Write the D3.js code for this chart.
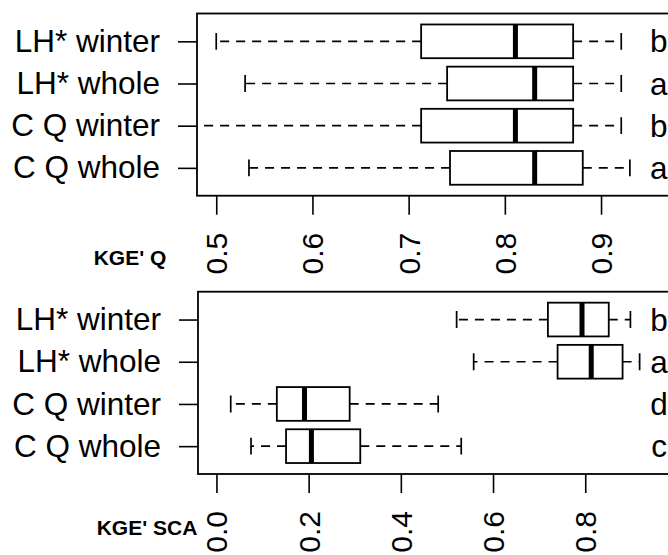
<!DOCTYPE html>
<html><head><meta charset="utf-8">
<script src="https://cdn.jsdelivr.net/npm/d3@7"></script>
<style>
html,body{margin:0;padding:0;background:#fff;}
svg{display:block;font-family:"Liberation Sans",Arial,Helvetica,sans-serif;}
</style></head>
<body><svg id="chart" width="668" height="555"></svg>
<script>
// categories, bottom to top
const categories = ["C Q whole", "C Q winter", "LH* whole", "LH* winter"];

// Panel 1: KGE' Q
const qLow    = [0.534, 0.460, 0.530, 0.500];
const qQ1     = [0.743, 0.713, 0.740, 0.713];
const qMedian = [0.831, 0.811, 0.831, 0.811];
const qQ3     = [0.881, 0.871, 0.871, 0.871];
const qHigh   = [0.930, 0.921, 0.921, 0.921];
const qLetters = ["a", "b", "a", "b"];
const qTicks = [0.5, 0.6, 0.7, 0.8, 0.9];
const qLimits = [0.5, 1.0];

// Panel 2: KGE' SCA
const sLow    = [0.075, 0.031, 0.558, 0.521];
const sQ1     = [0.151, 0.131, 0.740, 0.719];
const sMedian = [0.206, 0.191, 0.813, 0.793];
const sQ3     = [0.312, 0.289, 0.881, 0.851];
const sHigh   = [0.531, 0.481, 0.918, 0.898];
const sLetters = ["c", "d", "a", "b"];
const sTicks = [0.0, 0.2, 0.4, 0.6, 0.8];
const sLimits = [0.0, 1.0];

const letterX = 0.96;

const svg = d3.select("#chart");
const FS = 30;
const FSL = 31.5;

function panel(cfg) {
  const ext = (cfg.limits[1] - cfg.limits[0]) * 0.04;
  const x = d3.scaleLinear()
    .domain([cfg.limits[0] - ext, cfg.limits[1] + ext])
    .range([cfg.left, cfg.left + cfg.width]);
  const y = d3.scaleLinear().domain([0.34, 4.66]).range([cfg.bottom, cfg.top]);
  const unit = Math.abs(y(1) - y(0));
  const boxH = 0.8 * unit;
  const g = svg.append("g");
  const clipId = "clip" + cfg.id;
  svg.append("clipPath").attr("id", clipId).append("rect")
    .attr("x", x.range()[0]).attr("y", cfg.top)
    .attr("width", x.range()[1] - x.range()[0]).attr("height", cfg.bottom - cfg.top);
  const plot = g.append("g").attr("clip-path", `url(#${clipId})`);

  const rows = categories.map((c, i) => ({
    c, pos: i + 1, low: cfg.low[i], q1: cfg.q1[i], med: cfg.med[i], q3: cfg.q3[i], high: cfg.high[i], letter: cfg.letters[i]
  }));
  const rg = plot.selectAll("g.row").data(rows).join("g").attr("class", "row");
  // whiskers
  rg.append("line").attr("x1", d => x(d.q1)).attr("x2", d => x(d.low))
    .attr("y1", d => y(d.pos)).attr("y2", d => y(d.pos))
    .attr("stroke", "#000").attr("stroke-width", 1.7).attr("stroke-dasharray", "9,7");
  rg.append("line").attr("x1", d => x(d.q3)).attr("x2", d => x(d.high))
    .attr("y1", d => y(d.pos)).attr("y2", d => y(d.pos))
    .attr("stroke", "#000").attr("stroke-width", 1.7).attr("stroke-dasharray", "9,7");
  // staples
  ["low", "high"].forEach(k => {
    rg.append("line").attr("x1", d => x(d[k])).attr("x2", d => x(d[k]))
      .attr("y1", d => y(d.pos) - boxH / 4).attr("y2", d => y(d.pos) + boxH / 4)
      .attr("stroke", "#000").attr("stroke-width", 1.7);
  });
  // box
  rg.append("rect").attr("x", d => x(d.q1)).attr("width", d => x(d.q3) - x(d.q1))
    .attr("y", d => y(d.pos) - boxH / 2).attr("height", boxH)
    .attr("fill", "#fff").attr("stroke", "#000").attr("stroke-width", 1.8);
  // median
  rg.append("line").attr("x1", d => x(d.med)).attr("x2", d => x(d.med))
    .attr("y1", d => y(d.pos) - boxH / 2).attr("y2", d => y(d.pos) + boxH / 2)
    .attr("stroke", "#000").attr("stroke-width", 5);
  // letters
  plot.selectAll("text.letter").data(rows).join("text").attr("class", "letter")
    .attr("x", x(letterX)).attr("y", d => y(d.pos)).attr("dy", "0.35em")
    .attr("text-anchor", "middle").attr("font-size", FSL).text(d => d.letter);

  // frame
  g.append("rect").attr("x", x.range()[0]).attr("y", cfg.top)
    .attr("width", x.range()[1] - x.range()[0]).attr("height", cfg.bottom - cfg.top)
    .attr("fill", "none").attr("stroke", "#000").attr("stroke-width", 1.8);

  // bottom axis
  const ax = g.append("g").attr("transform", `translate(0,${cfg.bottom})`)
    .call(d3.axisBottom(x).tickValues(cfg.ticks).tickFormat(d3.format(".1f")).tickSize(19).tickSizeOuter(0));
  ax.select(".domain").remove();
  ax.selectAll(".tick line").attr("stroke", "#000").attr("stroke-width", 1.6);
  ax.selectAll(".tick text").attr("x", 0).attr("y", 0).attr("dy", "0.35em")
    .attr("transform", "translate(0,37) rotate(-90)").attr("text-anchor", "end")
    .attr("font-size", FS).attr("fill", "#000")
    .attr("font-family", "Liberation Sans, Arial, sans-serif");

  // left axis
  const ay = g.append("g").attr("transform", `translate(${x.range()[0]},0)`)
    .call(d3.axisLeft(y).tickValues(rows.map(r => r.pos)).tickFormat((d, i) => categories[i]).tickSize(19).tickSizeOuter(0).tickPadding(18));
  ay.select(".domain").remove();
  ay.selectAll(".tick line").attr("stroke", "#000").attr("stroke-width", 1.6);
  ay.selectAll(".tick text").attr("font-size", FSL).attr("fill", "#000")
    .attr("font-family", "Liberation Sans, Arial, sans-serif");

  // axis title
  g.append("text").attr("x", cfg.titleX).attr("y", cfg.titleY)
    .attr("text-anchor", "middle").attr("font-weight", "bold").attr("font-size", 21)
    .text(cfg.title);
}

panel({ id: 1, left: 197, width: 0.54 * 962, top: 13.5, bottom: 195.7,
  limits: qLimits, ticks: qTicks, low: qLow, q1: qQ1, med: qMedian, q3: qQ3, high: qHigh,
  letters: qLetters, title: "KGE' Q", titleX: 130, titleY: 265 });
panel({ id: 2, left: 198, width: 1.08 * 461, top: 291.7, bottom: 474,
  limits: sLimits, ticks: sTicks, low: sLow, q1: sQ1, med: sMedian, q3: sQ3, high: sHigh,
  letters: sLetters, title: "KGE' SCA", titleX: 147, titleY: 535 });
</script>
</body></html>
